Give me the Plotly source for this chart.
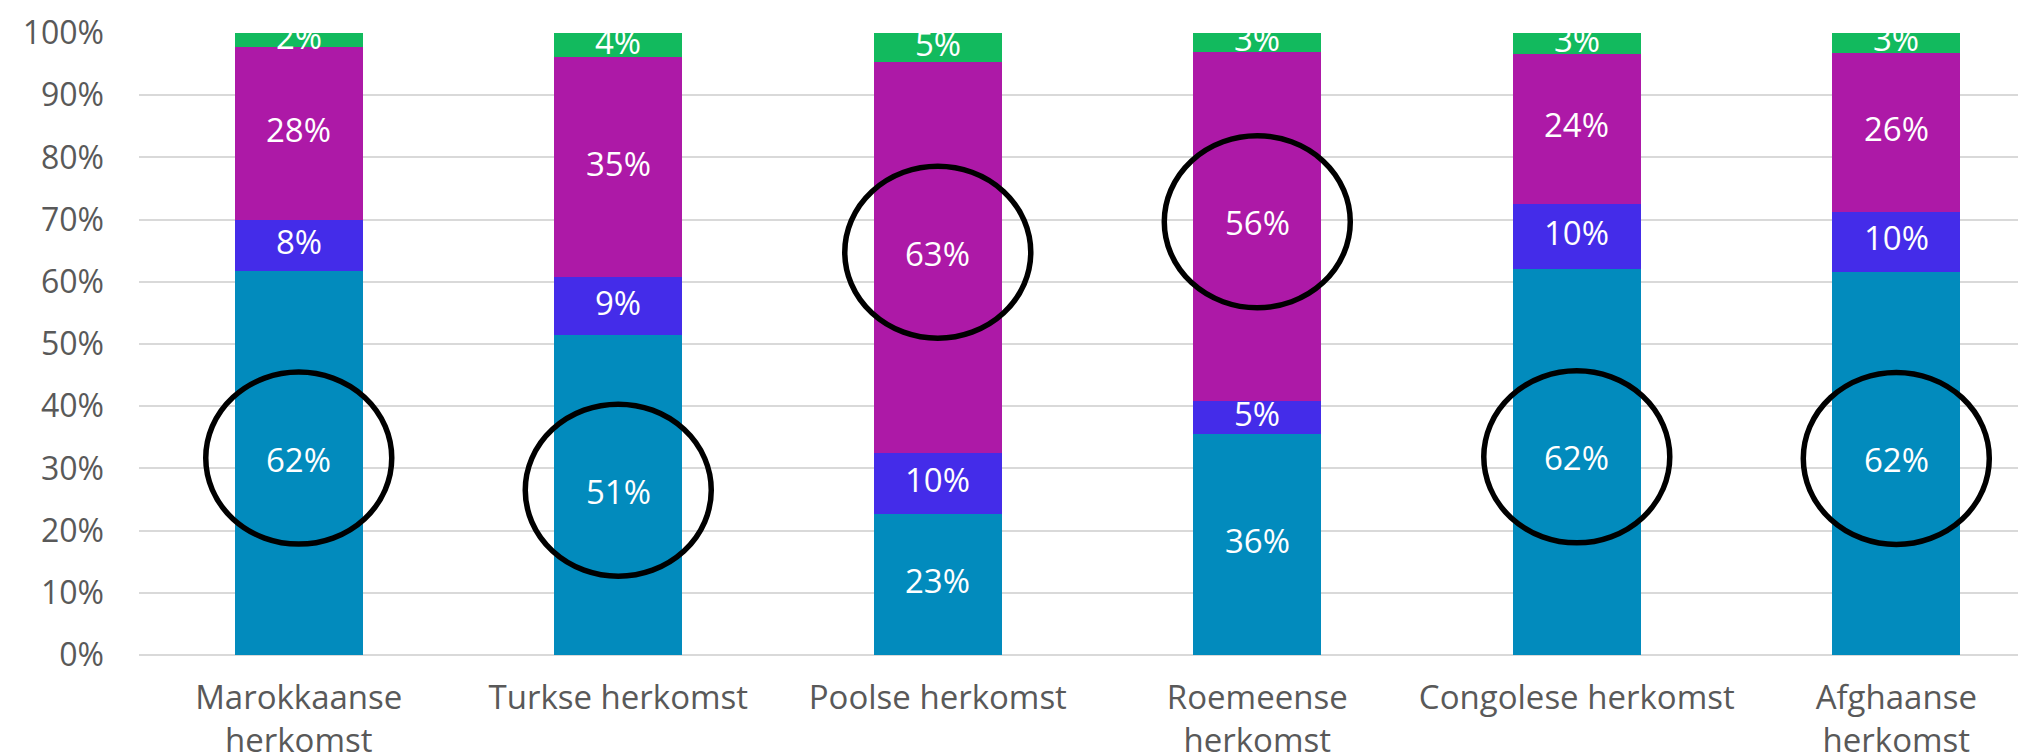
import plotly.graph_objects as go

categories = ["Marokkaanse herkomst", "Turkse herkomst", "Poolse herkomst",
              "Roemeense herkomst", "Congolese herkomst", "Afghaanse herkomst"]
tick_labels = ["Marokkaanse<br>herkomst", "Turkse herkomst", "Poolse herkomst",
               "Roemeense<br>herkomst", "Congolese herkomst", "Afghaanse<br>herkomst"]
y_ticks = [0, 10, 20, 30, 40, 50, 60, 70, 80, 90, 100]
y_tick_labels = ["0%", "10%", "20%", "30%", "40%", "50%", "60%", "70%", "80%", "90%", "100%"]

series_teal = [61.7, 51.4, 22.7, 35.6, 62.1, 61.6]
series_blue = [8.3, 9.3, 9.8, 5.2, 10.4, 9.6]
series_purple = [27.7, 35.4, 62.9, 56.1, 24.2, 25.6]
series_green = [2.3, 3.9, 4.6, 3.1, 3.3, 3.2]

series = [series_teal, series_blue, series_purple, series_green]
colors = ["#028BBD", "#442CE9", "#AD19A7", "#12BA5E"]

# highlighted (category index, series index)
highlights = [(0, 0), (1, 0), (2, 2), (3, 2), (4, 0), (5, 0)]

fig = go.Figure()
for vals, col in zip(series, colors):
    fig.add_trace(go.Bar(
        x=categories, y=vals, marker=dict(color=col, line=dict(width=0)),
        width=0.4, hoverinfo="skip",
    ))

# data labels at segment midpoints
for si, vals in enumerate(series):
    for ci, cat in enumerate(categories):
        base = sum(series[k][ci] for k in range(si))
        mid = base + vals[ci] / 2
        fig.add_annotation(x=cat, y=mid, text=f"{round(vals[ci])}%",
                           showarrow=False, yshift=4,
                           font=dict(family="Open Sans", size=33, color="white"))

for ci, si in highlights:
    base = sum(series[k][ci] for k in range(si))
    mid = base + series[si][ci] / 2
    fig.add_shape(type="circle", xref="x", yref="y",
                  xsizemode="pixel", ysizemode="pixel",
                  xanchor=ci, yanchor=mid,
                  x0=-93, x1=93, y0=-81, y1=91,
                  line=dict(color="black", width=5.5))

fig.update_layout(
    barmode="stack", width=2026, height=754,
    margin=dict(l=131, r=0, t=25, b=107),
    plot_bgcolor="white", paper_bgcolor="white",
    showlegend=False,
    font=dict(family="Open Sans", color="#595959"),
)
fig.update_xaxes(
    type="category", range=[-0.5, 5.431], automargin=False,
    tickvals=categories, ticktext=tick_labels,
    tickfont=dict(family="Open Sans", size=33, color="#595959"),
    showgrid=False, showline=False, ticks="", ticklabelstandoff=20,
)
fig.update_yaxes(
    range=[0, 100], tickvals=y_ticks, ticktext=y_tick_labels, automargin=False,
    showgrid=True, gridcolor="#D9D9D9", gridwidth=2,
    zeroline=True, zerolinecolor="#D9D9D9", zerolinewidth=2,
    tickfont=dict(family="Open Sans", size=32, color="#595959"),
    ticks="", ticklabelstandoff=34,
)

fig.write_html("out.html")
